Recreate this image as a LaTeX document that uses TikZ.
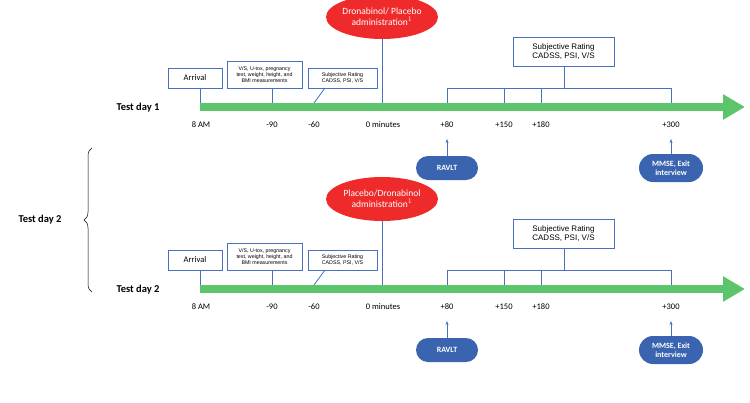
\documentclass[tikz,border=0pt]{standalone}
\usepackage{fontspec}
\setmainfont{Carlito}
\newfontfamily\arl{Liberation Sans}
\usetikzlibrary{shapes.geometric,shapes.misc,arrows.meta,decorations.pathreplacing}
\definecolor{grn}{HTML}{5CC46A}
\definecolor{bln}{HTML}{3A64B0}
\definecolor{lnc}{HTML}{4A70C0}
\definecolor{redc}{HTML}{EE2A2A}
\tikzset{
 ln/.style={lnc,line width=0.8pt},
 brk/.style={draw=lnc,line width=0.6pt,minimum height=20pt,inner sep=1pt,align=center},
 pill/.style={rounded rectangle,fill=bln,text=white,font=\fontsize{8}{9}\selectfont\bfseries,align=center,inner sep=2pt},
 tlab/.style={font=\fontsize{8.5}{10}\selectfont},
 dayl/.style={font=\fontsize{10.5}{12}\selectfont\bfseries}
}
\begin{document}
\begin{tikzpicture}[x=1pt,y=-1pt]
\useasboundingbox (0,0) rectangle (750,402);
\node[dayl] (td2) at (40,220) {Test day 2};
\coordinate (bt) at (92,148); \coordinate (bb) at (92,292);
\draw[line width=0.5pt,decorate,decoration={brace,amplitude=8pt,mirror}] (bt) -- (bb);
\foreach \d/\oy/\dn/\lab in {1/0/Test day 1/{Dronabinol/ Placebo\\administration$^{1}$},2/182/Test day 2/{Placebo/Dronabinol\\administration$^{1}$}}{
 \begin{scope}[yshift=-\oy pt]
 \node[dayl] (day\d) at (138,108) {\dn};
 \coordinate (as\d) at (200,107); \coordinate (ae\d) at (745,107);
 \draw[grn,line width=8pt,-{Triangle[length=22pt,width=24pt]}] (as\d) -- (ae\d);
 \foreach \x/\t/\n in {201/8 AM/a,272/-90/b,314/-60/c,383/0 minutes/d,447/+80/e,504/+150/f,541/+180/g,671/+300/h}
   \node[tlab] (l\n\d) at (\x,125) {\t};
 \node[brk,minimum width=54pt,font=\fontsize{8.5}{10}\selectfont] (arr\d) at (195,78) {Arrival};
 \node[brk,minimum width=75pt,minimum height=27pt,font=\arl\fontsize{5.3}{6.3}\selectfont] (vs\d) at (264.5,74.5) {V/S, U-tox, pregnancy\\test, weight, height, and\\BMI measurements};
 \node[brk,minimum width=69pt,font=\arl\fontsize{5.3}{6.3}\selectfont] (sr\d) at (342.5,78) {Subjective Rating\\CADSS, PSI, V/S};
 \node[brk,minimum width=101pt,minimum height=29pt,font=\arl\fontsize{8}{9.5}\selectfont] (sb\d) at (563.5,51.5) {Subjective Rating\\CADSS, PSI, V/S};
 \node[ellipse,fill=redc,text=white,minimum width=112pt,minimum height=44pt,inner sep=0pt,align=center,font=\fontsize{9.5}{11}\selectfont] (rd\d) at (382,17) {\lab};
 \coordinate (pa\d) at (200,103); \coordinate (pb\d) at (272,103); \coordinate (pc\d) at (314,103); \coordinate (pd\d) at (382,103);
 \coordinate (qc\d) at (325,88);
 \draw[ln] (pa\d) -- (arr\d.south -| pa\d);
 \draw[ln] (pb\d) -- (vs\d.south -| pb\d);
 \draw[ln] (pc\d) -- (qc\d);
 \draw[ln] (rd\d.south) -- (pd\d);
 \coordinate (h1\d) at (447,88); \coordinate (h2\d) at (671,88);
 \coordinate (m\d) at (564,88);
 \draw[ln] (447,103) -- (h1\d) -- (h2\d) -- (671,103);
 \draw[ln] (504,103) -- (504,88); \draw[ln] (541,103) -- (541,88);
 \draw[ln] (m\d) -- (sb\d.south -| m\d);
 \node[pill,minimum width=66pt,minimum height=24pt] (rv\d) at (447,168) {RAVLT};
 \node[pill,minimum width=68pt,minimum height=28pt] (mm\d) at (671,168) {MMSE, Exit\\interview};
 \coordinate (ra\d) at (447,139); \coordinate (ma\d) at (671,139);
 \draw[ln,-{Stealth[length=4pt]}] (rv\d.north) -- (ra\d);
 \draw[ln,-{Stealth[length=4pt]}] (mm\d.north) -- (ma\d);
 \end{scope}}
\end{tikzpicture}
\end{document}
